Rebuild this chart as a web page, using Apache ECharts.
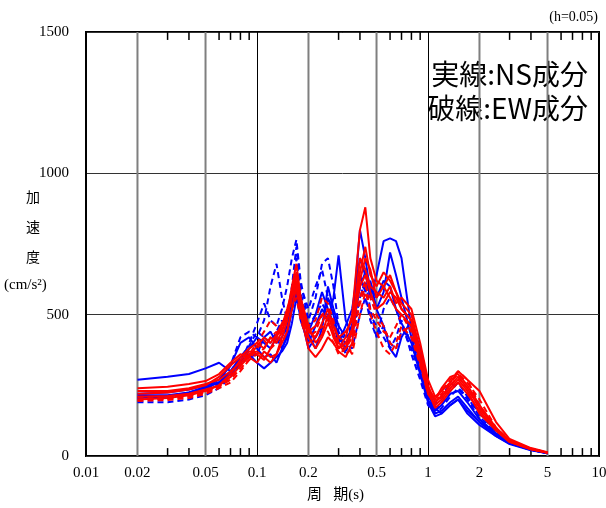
<!DOCTYPE html>
<html>
<head>
<meta charset="utf-8">
<script src="https://cdn.jsdelivr.net/npm/echarts@6/dist/echarts.min.js"></script>
<style>
  html, body { margin: 0; padding: 0; background: #fff; }
  #main { width: 606px; height: 508px; }
</style>
</head>
<body>
<div id="main"></div>
<script>
// 周期 (s)
var periods = [0.02, 0.03, 0.04, 0.05, 0.06, 0.07, 0.08, 0.09, 0.1,
  0.11, 0.12, 0.13, 0.14, 0.15, 0.16, 0.17, 0.18,
  0.2, 0.22, 0.24, 0.26, 0.28, 0.3,
  0.33, 0.36, 0.4, 0.43, 0.46, 0.5,
  0.55, 0.6, 0.65, 0.7, 0.8, 0.9,
  1.0, 1.1, 1.2, 1.35, 1.5, 1.7,
  2.0, 2.5, 3.0, 4.0, 5.0];

// 青 実線 (NS)
var blueNS1 = [270,280,290,310,330,300,330,380,420, 400,380,420,380,420,520,580,480, 400,460,520,480,560,710, 480,430,600,650,560,640, 760,770,760,700,450,330, 220,160,180,220,230,190, 130,80,50,25,12];
var blueNS2 = [220,225,235,250,260,300,350,360,330, 310,330,350,370,400,470,560,500, 380,420,460,560,500,420, 380,470,800,700,580,520, 580,720,640,560,420,300, 200,150,160,190,210,170, 120,75,45,22,10];
var blueNS3 = [205,210,225,245,270,320,400,420,380, 350,360,330,380,430,560,620,520, 430,380,450,600,520,460, 420,440,640,580,620,520, 460,380,350,420,480,380, 240,170,150,180,200,150, 110,70,42,20,10];
var blueNS4 = [215,215,225,240,260,290,330,350,360, 420,440,400,420,460,540,600,540, 440,500,580,520,470,400, 460,520,700,640,600,560, 620,600,520,470,400,290, 190,140,150,180,200,160, 120,70,45,22,10];
// 青 破線 (EW)
var blueEW1 = [190,190,200,215,240,280,330,400,470, 540,480,460,520,600,700,765,620, 480,560,680,700,600,460, 400,420,560,620,520,420, 520,560,520,460,380,290, 200,160,190,230,260,210, 140,80,50,24,11];
var blueEW2 = [200,205,215,230,260,320,420,440,420, 480,600,680,560,480,600,740,600, 520,600,660,560,520,440, 360,460,600,560,480,420, 460,400,380,440,420,320, 210,180,210,260,240,200, 130,75,45,22,10];
var blueEW3 = [210,210,220,235,255,300,350,390,440, 420,400,440,480,430,520,700,580, 460,500,540,500,460,420, 400,380,500,560,500,460, 420,380,420,480,360,270, 180,150,170,210,240,210, 150,85,50,25,12];
// 赤 実線 (NS)
var redNS1 = [240,245,255,265,290,330,360,350,330, 370,350,360,420,480,580,650,560, 460,400,430,500,440,380, 420,500,800,880,700,620, 600,640,580,520,480,360, 240,200,240,280,290,250, 180,100,55,26,12];
var redNS2 = [220,225,235,250,280,320,350,380,400, 380,420,400,440,500,560,620,520, 420,380,420,470,430,400, 380,440,700,660,600,580, 560,600,540,560,520,400, 270,210,230,260,300,270, 230,120,60,28,13];
var redNS3 = [230,230,240,255,270,300,330,360,370, 350,330,360,400,440,520,600,500, 380,350,380,420,400,370, 350,400,650,740,640,600, 650,620,580,540,500,370, 250,190,210,250,280,240, 170,95,52,25,12];
var redNS4 = [210,212,220,235,250,280,320,350,390, 420,400,430,470,500,600,680,560, 440,420,470,520,460,420, 440,480,620,700,660,560, 600,560,520,500,460,330, 220,180,200,240,270,230, 150,90,50,24,11];
var redNS5 = [200,205,215,230,250,290,340,370,360, 340,380,420,460,520,580,640,540, 440,460,500,480,420,380, 400,450,600,640,580,520, 540,580,560,520,480,350, 230,170,190,230,260,220, 160,90,50,24,11];
// 赤 破線 (EW)
var redEW1 = [200,202,210,225,250,280,320,360,400, 440,480,460,420,480,560,620,540, 460,480,560,540,480,400, 360,380,560,620,500,440, 380,360,400,460,420,320, 220,190,220,260,290,260, 200,100,55,26,12];
var redEW2 = [195,198,205,220,240,260,300,340,380, 410,380,400,450,500,560,590,500, 420,440,500,520,460,420, 400,360,500,580,520,480, 440,420,460,500,440,330, 230,200,230,270,300,270, 180,95,52,25,12];
var redEW3 = [210,210,215,225,245,270,310,340,360, 380,420,440,400,440,520,560,480, 400,420,460,440,400,360, 380,420,540,600,560,500, 460,400,380,440,460,350, 240,200,210,250,280,240, 170,95,52,25,12];

// 軸目盛
var xLabels = [0.01, 0.02, 0.05, 0.1, 0.2, 0.5, 1, 2, 5, 10];
var greyGrid = [0.02, 0.05, 0.2, 0.5, 2, 5];
var minorTicks = [0.03, 0.04, 0.06, 0.07, 0.08, 0.09, 0.3, 0.4, 0.6, 0.7, 0.8, 0.9, 3, 4, 6, 7, 8, 9];

var SERIF = '"Liberation Serif", "Noto Sans CJK JP", serif';
var myChart = echarts.init(document.getElementById('main'));

function pairs(vals) {
  return periods.map(function (t, i) { return [t, vals[i]]; });
}
function lineSeries(vals, color, dashed) {
  return {
    type: 'line',
    data: pairs(vals),
    symbol: 'none',
    silent: true,
    z: 5,
    lineStyle: { color: color, width: 2, type: dashed ? [6, 4] : 'solid' }
  };
}

// 軸の装飾: [周期, 種類]  種類 0=ラベル, 1=灰色の縦線, 2=小目盛
var decoData = []
  .concat(xLabels.map(function (v) { return [v, 0]; }))
  .concat(greyGrid.map(function (v) { return [v, 1]; }))
  .concat(minorTicks.map(function (v) { return [v, 2]; }));

function decoItem(params, api) {
  var x = api.value(0), kind = api.value(1);
  var a = api.coord([x, 0]), b = api.coord([x, 1500]);
  if (kind === 0) {
    return { type: 'text', x: a[0], y: a[1] + 17,
      style: { text: String(x), fill: '#000', font: '15px ' + SERIF,
        align: 'center', verticalAlign: 'middle', textAlign: 'center', textVerticalAlign: 'middle' } };
  }
  if (kind === 1) {
    return { type: 'line', shape: { x1: a[0], y1: a[1], x2: b[0], y2: b[1] },
      style: { stroke: '#7f7f7f', lineWidth: 2 } };
  }
  var c = api.coord([x, 28]), d = api.coord([x, 1472]);
  return { type: 'group', children: [
    { type: 'line', shape: { x1: a[0], y1: a[1], x2: c[0], y2: c[1] }, style: { stroke: '#000', lineWidth: 1.5 } },
    { type: 'line', shape: { x1: b[0], y1: b[1], x2: d[0], y2: d[1] }, style: { stroke: '#000', lineWidth: 1.5 } }
  ] };
}

var series = [
  { type: 'custom', silent: true, clip: false, z: 1, data: decoData, renderItem: decoItem }
];

[blueNS1, blueNS2, blueNS3, blueNS4].forEach(function (v) { series.push(lineSeries(v, '#0000ff', false)); });
[blueEW1, blueEW2, blueEW3].forEach(function (v) { series.push(lineSeries(v, '#0000ff', true)); });
[redEW1, redEW2, redEW3].forEach(function (v) { series.push(lineSeries(v, '#ff0000', true)); });
[redNS1, redNS2, redNS3, redNS4, redNS5].forEach(function (v) { series.push(lineSeries(v, '#ff0000', false)); });

var option = {
  animation: false,
  backgroundColor: '#fff',
  grid: {
    left: 86, right: 7, top: 32, bottom: 52,
    show: true, borderColor: '#000', borderWidth: 2
  },
  xAxis: {
    type: 'log', logBase: 10, min: 0.01, max: 10,
    axisLine: { show: false },
    axisTick: { show: false },
    axisLabel: { show: false },
    splitLine: { show: true, lineStyle: { color: '#000', width: 1 } }
  },
  yAxis: {
    type: 'value', min: 0, max: 1500, interval: 500,
    axisLine: { show: false },
    axisTick: { show: false },
    axisLabel: { color: '#000', fontFamily: SERIF, fontSize: 15, margin: 17,
      formatter: function (v) { return String(v); } },
    splitLine: { show: true, lineStyle: { color: '#333', width: 1 } }
  },
  graphic: [
    { type: 'text', right: 8, top: 10, style: { text: '(h=0.05)', font: '14px ' + SERIF, fill: '#000' } },
    { type: 'text', right: 18, top: 60, style: { text: '実線:NS成分', font: '28px "Noto Sans CJK JP"', fill: '#000' } },
    { type: 'text', right: 18, top: 94, style: { text: '破線:EW成分', font: '28px "Noto Sans CJK JP"', fill: '#000' } },
    { type: 'text', left: 26, top: 190, style: { text: '加', font: '14px "Noto Sans CJK JP"', fill: '#000' } },
    { type: 'text', left: 26, top: 220, style: { text: '速', font: '14px "Noto Sans CJK JP"', fill: '#000' } },
    { type: 'text', left: 26, top: 250, style: { text: '度', font: '14px "Noto Sans CJK JP"', fill: '#000' } },
    { type: 'text', left: 4, top: 278, style: { text: '(cm/s²)', font: '15px ' + SERIF, fill: '#000' } },
    { type: 'text', left: 307, top: 488, style: { text: '周   期(s)', font: '15px ' + SERIF, fill: '#000' } }
  ],
  series: series
};
myChart.setOption(option);
</script>
</body>
</html>
